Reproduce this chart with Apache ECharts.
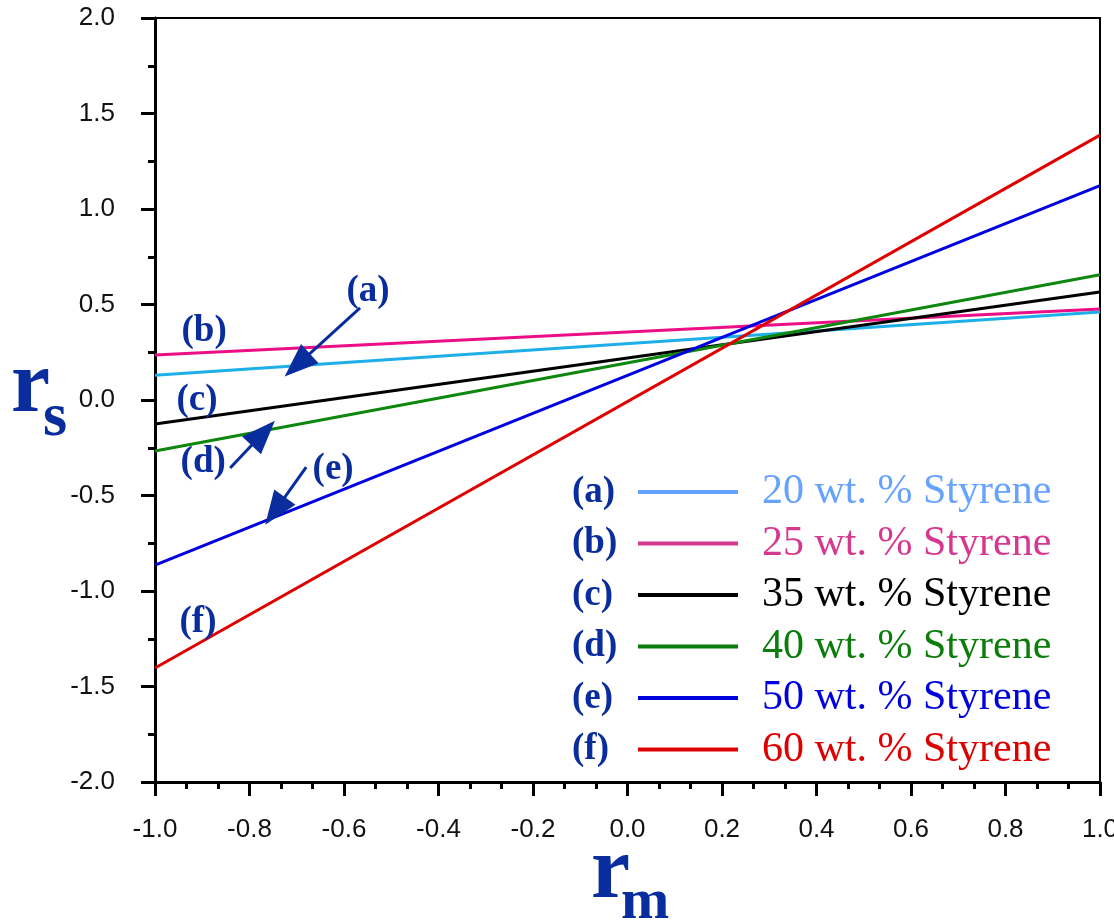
<!DOCTYPE html>
<html>
<head>
  <meta charset="utf-8">
  <title>rs vs rm</title>
  <style>
    html, body { margin: 0; padding: 0; background: #fff; }
    #chart { width: 1114px; height: 924px; }
  </style>
</head>
<body>
  <div id="chart"></div>
  <script src="https://cdn.jsdelivr.net/npm/echarts@6/dist/echarts.min.js"></script>
  <script type="text/javascript">
    // end points of each straight line, rm = -1 and rm = 1
    var xEnds = [-1.0, 1.0];
    var rsA = [0.129, 0.461];   // 20 wt. %
    var rsB = [0.236, 0.476];   // 25 wt. %
    var rsC = [-0.126, 0.565];  // 35 wt. %
    var rsD = [-0.267, 0.656];  // 40 wt. %
    var rsE = [-0.864, 1.122];  // 50 wt. %
    var rsF = [-1.403, 1.387];  // 60 wt. %

    var names = ['20 wt. % Styrene', '25 wt. % Styrene', '35 wt. % Styrene',
                 '40 wt. % Styrene', '50 wt. % Styrene', '60 wt. % Styrene'];
    var tags = ['(a)', '(b)', '(c)', '(d)', '(e)', '(f)'];
    var lineColors = ['#1eaee8', '#ec0e86', '#000000', '#0e870e', '#0000e0', '#e00000'];
    var legendColors = ['#66a3ff', '#d6388f', '#000000', '#0a7d0a', '#0000dd', '#dd0000'];

    // in-plot tags, [rm, rs, text]
    var tagPoints = [
      [-0.549, 0.571, '(a)'],
      [-0.896, 0.361, '(b)'],
      [-0.911, 0.0, '(c)'],
      [-0.898, -0.325, '(d)'],
      [-0.623, -0.366, '(e)'],
      [-0.909, -1.162, '(f)']
    ];
    // arrows: [from rm, from rs, to rm, to rs]
    var arrows = [
      [-0.566, 0.482, -0.699, 0.183],
      [-0.841, -0.356, -0.771, -0.173],
      [-0.680, -0.351, -0.746, -0.581]
    ];

    var tagBlue = '#0a2d9e';
    var allRs = [rsA, rsB, rsC, rsD, rsE, rsF];

    var series = allRs.map(function (ys, i) {
      return {
        name: names[i],
        type: 'line',
        data: xEnds.map(function (x, k) { return [x, ys[k]]; }),
        showSymbol: false,
        lineStyle: { color: lineColors[i], width: 3 },
        itemStyle: { color: lineColors[i] },
        z: 3
      };
    });

    series.push({
      name: 'tags',
      type: 'scatter',
      data: tagPoints,
      symbolSize: 1,
      itemStyle: { color: 'rgba(0,0,0,0)', opacity: 1 },
      label: {
        show: true,
        position: 'inside',
        formatter: function (p) { return p.data[2]; },
        fontFamily: 'Liberation Serif',
        fontWeight: 'bold',
        fontSize: 37,
        color: tagBlue,
        opacity: 1
      },
      markLine: {
        silent: true,
        animation: false,
        label: { show: false },
        lineStyle: { color: tagBlue, width: 3, type: 'solid', opacity: 1 },
        data: arrows.map(function (a) {
          return [
            { coord: [a[0], a[1]], symbol: 'none' },
            { coord: [a[2], a[3]], symbol: 'triangle', symbolSize: [26, 34] }
          ];
        })
      },
      z: 5
    });

    var chart = echarts.init(document.getElementById('chart'));

    var legendTop = 465;
    var rowStep = 51.5;
    function txt(t, x, y, size) {
      return {
        type: 'text', x: x, y: y,
        style: {
          text: t, fontFamily: 'Liberation Serif', fontWeight: 'bold',
          fontSize: size, lineHeight: size, fill: tagBlue,
          align: 'left', verticalAlign: 'middle'
        }
      };
    }
    var graphics = tags.map(function (t, i) {
      return txt(t, 572, legendTop + 27 + i * rowStep, 37);
    });
    // axis names, y is the middle of the line box
    graphics.push(
      txt('r', 11, 388, 88),
      txt('s', 43, 419, 62),
      txt('r', 591, 874, 88),
      txt('m', 621, 903, 58)
    );

    chart.setOption({
      animation: false,
      backgroundColor: '#ffffff',
      grid: {
        left: 155, right: 14, top: 18, bottom: 142,
        outerBoundsMode: 'none',
        containLabel: false,
        show: true, borderColor: '#000', borderWidth: 2
      },
      xAxis: {
        type: 'value',
        min: -1, max: 1, interval: 0.2,
        axisLine: { show: true, onZero: false, lineStyle: { color: '#000', width: 3 } },
        axisTick: { show: true, length: 14, lineStyle: { color: '#000', width: 3 } },
        minorTick: { show: true, splitNumber: 3, length: 7, lineStyle: { color: '#000', width: 3 } },
        splitLine: { show: false },
        axisLabel: {
          margin: 35,
          fontFamily: 'Liberation Sans',
          fontSize: 26,
          color: '#111',
          formatter: function (v) { return v.toFixed(1); }
        }
      },
      yAxis: {
        type: 'value',
        min: -2, max: 2, interval: 0.5,
        axisLine: { show: true, onZero: false, lineStyle: { color: '#000', width: 3 } },
        axisTick: { show: true, length: 14, lineStyle: { color: '#000', width: 3 } },
        minorTick: { show: true, splitNumber: 2, length: 7, lineStyle: { color: '#000', width: 3 } },
        splitLine: { show: false },
        axisLabel: {
          margin: 40,
          fontFamily: 'Liberation Sans',
          fontSize: 26,
          color: '#111',
          formatter: function (v) { return v.toFixed(1); }
        }
      },
      legend: {
        orient: 'vertical',
        left: 633,
        top: legendTop,
        icon: 'rect',
        itemWidth: 100,
        itemHeight: 4,
        itemGap: 7.5,
        selectedMode: false,
        textStyle: {
          fontFamily: 'Liberation Serif',
          fontSize: 42,
          lineHeight: 44,
          padding: [0, 0, 0, 19]
        },
        data: names.map(function (n, i) {
          return { name: n, itemStyle: { color: legendColors[i] }, textStyle: { color: legendColors[i] } };
        })
      },
      graphic: graphics,
      series: series
    });
  </script>
</body>
</html>
